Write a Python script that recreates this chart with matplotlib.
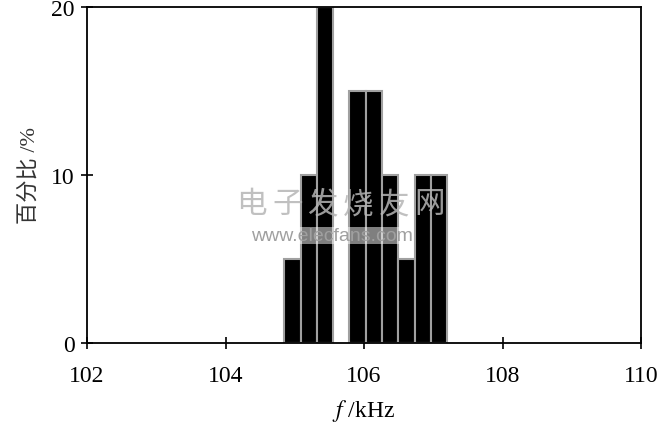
import numpy as np
import matplotlib
matplotlib.use('Agg')
import matplotlib.pyplot as plt

# histogram bins (kHz) and percentages
binLefts = [104.85, 105.085, 105.32, 105.555, 105.79, 106.025, 106.26, 106.495, 106.73, 106.965]
percents = [5, 10, 20, 0, 15, 15, 10, 5, 10, 10]
binWidth = 0.235

xTicks = [102, 104, 106, 108, 110]
yTicks = [0, 10, 20]

serif = ['Liberation Serif', 'Noto Sans CJK SC']
plt.rcParams['font.family'] = serif
plt.rcParams['mathtext.fontset'] = 'stix'

fig = plt.figure(figsize=(6.71, 4.31), dpi=100)
ax = fig.add_axes([0.1297, 0.2019, 0.8256, 0.7795])

heights = [p if p > 0 else np.nan for p in percents]
ax.bar(binLefts, heights, width=binWidth, align='edge',
       color='black', edgecolor='#a0a0a0', linewidth=1.5, zorder=2)

ax.set_xlim(102, 110)
ax.set_ylim(0, 20)
ax.set_xticks(xTicks)
ax.set_yticks(yTicks)
ax.tick_params(axis='x', direction='inout', length=8, width=1.2, labelsize=17, pad=12)
ax.tick_params(axis='y', direction='inout', length=8, width=1.2, labelsize=17, pad=5)
for s in ax.spines.values():
    s.set_linewidth(1.3)

ax.set_xlabel('$f$ /kHz', fontsize=17, labelpad=8)
ax.set_ylabel('百分比 /%', fontsize=16, labelpad=8, color='#333333', family=serif)

# watermark
wm = '电子发烧友网'
for i, ch in enumerate(wm):
    fig.text(0.375 + i * 0.053, 0.525, ch, fontsize=22, color='#b5b5b5', alpha=0.85,
             ha='center', va='center', style='italic', family=['Noto Sans CJK SC'])
fig.text(0.495, 0.452, 'www.elecfans.com', fontsize=14, color='#a0a0a0',
         ha='center', va='center', family=['Liberation Sans'],
         bbox=dict(facecolor='white', edgecolor='none', alpha=0.5, pad=0))

fig.savefig('out.png', dpi=100)
